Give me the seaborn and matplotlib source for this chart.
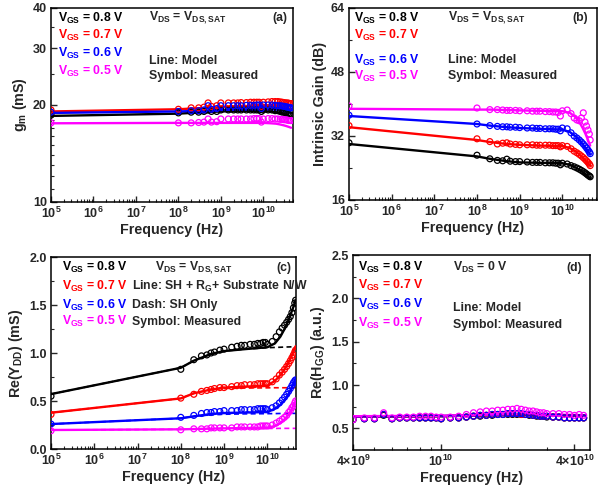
import numpy as np
import pandas as pd
import matplotlib
matplotlib.use("Agg")
import matplotlib.pyplot as plt
import matplotlib.ticker as mticker
import seaborn as sns

# ---------------------------------------------------------------- data
SERIES = ["0.8", "0.7", "0.6", "0.5"]
COLORS = {"0.8": "#000000", "0.7": "#ff0000", "0.6": "#0000ff", "0.5": "#ff00ff"}

# measured frequency sweep (Hz) for panels a-c
F_MEAS = [1e5, 1e8, 2e8, 3e8, 4e8, 5e8, 6e8, 8e8, 1e9, 1.5e9, 2e9, 2.5e9, 3e9,
          4e9, 5e9, 6e9, 7e9, 8e9, 9e9, 1e10, 1.3e10, 1.6e10, 1.9e10, 2.2e10,
          2.5e10, 2.8e10, 3.1e10, 3.4e10, 3.7e10, 4e10, 4.3e10, 4.5e10]
# model evaluation frequencies (Hz) for panels a-c
F_MODEL = [1e5, 1e8, 2e8, 5e8, 1e9, 3e9, 1e10, 1.5e10, 2e10, 2.5e10, 3e10,
           3.5e10, 4e10, 4.5e10]

# (a) transconductance gm (mS)
GM_MEAS = {
    "0.8": [18.6, 18.9, 19.0, 19.0, 19.1, 19.3, 19.1, 19.1, 19.3, 19.3, 19.3, 19.3, 19.3,
            19.3, 19.3, 19.3, 19.3, 19.3, 19.1, 19.3, 19.3, 19.3, 19.2, 19.2,
            19.1, 19.0, 19.0, 18.9, 18.8, 18.7, 18.6, 18.6],
    "0.7": [19.3, 19.4, 19.6, 19.6, 19.7, 20.3, 19.8, 19.9, 20.3, 20.3, 20.3, 20.3, 20.35,
            20.35, 20.4, 20.4, 20.4, 20.4, 19.8, 20.4, 20.45, 20.5, 20.5, 20.5,
            20.45, 20.4, 20.35, 20.3, 20.3, 20.25, 20.2, 20.2],
    "0.6": [19.0, 19.1, 19.2, 19.2, 19.3, 19.9, 19.4, 19.5, 19.9, 19.9, 19.9, 19.9, 19.9,
            19.95, 19.95, 19.95, 20.0, 20.0, 19.5, 20.0, 20.0, 20.0, 19.95, 19.9,
            19.9, 19.85, 19.8, 19.75, 19.7, 19.65, 19.6, 19.6],
    "0.5": [17.6, 17.6, 17.6, 17.65, 17.7, 18.1, 17.7, 17.75, 18.1, 18.1, 18.1, 18.1, 18.1,
            18.1, 18.1, 18.15, 18.15, 18.15, 17.7, 18.1, 18.15, 18.15, 18.1, 18.1,
            18.05, 18.05, 18.0, 18.0, 17.95, 17.9, 17.9, 17.9],
}
GM_MODEL = {
    "0.8": [18.5, 18.8, 18.9, 19.0, 19.1, 19.15, 19.15, 19.1, 19.0, 18.9, 18.8, 18.65, 18.5, 18.3],
    "0.7": [19.1, 19.4, 19.5, 19.6, 19.7, 19.8, 19.9, 19.9, 19.85, 19.8, 19.7, 19.6, 19.5, 19.4],
    "0.6": [18.9, 19.1, 19.15, 19.2, 19.3, 19.35, 19.4, 19.4, 19.35, 19.3, 19.2, 19.1, 19.0, 18.9],
    "0.5": [17.55, 17.6, 17.6, 17.6, 17.6, 17.6, 17.6, 17.55, 17.5, 17.4, 17.3, 17.2, 17.1, 17.0],
}

# (b) intrinsic gain (dB)
GAIN_MEAS = {
    "0.8": [30.3, 27.2, 26.3, 25.9, 25.8, 26.2, 25.7, 25.6, 25.6, 25.5, 25.4, 25.4, 25.4,
            25.3, 25.3, 25.3, 25.2, 25.2, 24.8, 25.2, 25.0, 24.6, 24.3, 24.0,
            23.7, 23.4, 23.1, 22.8, 22.5, 22.2, 22.0, 21.8],
    "0.7": [34.6, 31.3, 30.6, 30.0, 30.2, 30.3, 30.0, 29.9, 29.8, 29.8, 29.8, 29.7, 29.7,
            29.7, 29.7, 29.6, 29.6, 29.6, 29.3, 29.6, 29.4, 28.8, 28.2, 27.8,
            27.4, 27.0, 26.6, 26.2, 25.8, 25.4, 25.0, 24.6],
    "0.6": [37.2, 35.0, 34.6, 34.4, 34.3, 34.3, 34.2, 34.2, 34.1, 34.0, 34.0, 33.9, 33.9,
            33.8, 33.8, 33.8, 33.7, 33.7, 33.3, 34.0, 33.8, 32.8, 32.0, 31.5,
            31.0, 30.5, 30.0, 29.5, 29.0, 28.5, 28.0, 27.6],
    "0.5": [39.5, 39.0, 38.6, 38.6, 38.5, 38.4, 38.4, 38.4, 38.3, 38.3, 38.2, 38.2, 38.2,
            38.1, 38.1, 38.0, 38.0, 37.9, 37.0, 38.3, 38.5, 37.6, 36.5, 36.0,
            35.8, 36.5, 37.8, 35.5, 34.5, 33.5, 32.5, 31.0],
}
GAIN_MODEL = {
    "0.8": [30.0, 26.9, 26.3, 25.7, 25.4, 25.3, 25.2, 24.8, 24.2, 23.6, 23.0, 22.4, 21.9, 21.4],
    "0.7": [34.2, 31.0, 30.5, 30.0, 29.8, 29.6, 29.5, 29.0, 28.2, 27.4, 26.6, 25.8, 25.2, 24.6],
    "0.6": [37.0, 35.0, 34.6, 34.2, 34.0, 33.8, 33.6, 33.0, 32.0, 31.0, 30.0, 29.0, 28.2, 27.4],
    "0.5": [38.8, 38.6, 38.6, 38.5, 38.4, 38.3, 38.2, 37.8, 36.8, 35.5, 34.0, 32.5, 31.0, 29.6],
}

# (c) output conductance Re(Ydd) (mS)
YDD_MEAS = {
    "0.8": [0.55, 0.83, 0.93, 0.97, 0.98, 1.00, 1.01, 1.03, 1.04, 1.06, 1.07, 1.08, 1.08,
            1.09, 1.09, 1.10, 1.10, 1.11, 1.11, 1.09, 1.12, 1.17, 1.22, 1.26,
            1.29, 1.32, 1.35, 1.38, 1.42, 1.47, 1.52, 1.55],
    "0.7": [0.36, 0.53, 0.57, 0.60, 0.61, 0.62, 0.63, 0.64, 0.64, 0.65, 0.66, 0.66, 0.67,
            0.67, 0.67, 0.68, 0.68, 0.68, 0.68, 0.68, 0.70, 0.73, 0.77, 0.80,
            0.83, 0.86, 0.89, 0.92, 0.95, 0.98, 1.01, 1.03],
    "0.6": [0.26, 0.33, 0.35, 0.37, 0.38, 0.38, 0.39, 0.39, 0.40, 0.40, 0.40, 0.41, 0.41,
            0.41, 0.41, 0.42, 0.42, 0.42, 0.42, 0.41, 0.43, 0.45, 0.48, 0.51,
            0.54, 0.57, 0.60, 0.63, 0.66, 0.69, 0.71, 0.72],
    "0.5": [0.19, 0.20, 0.21, 0.21, 0.21, 0.22, 0.22, 0.22, 0.22, 0.22, 0.23, 0.23, 0.23,
            0.23, 0.23, 0.23, 0.24, 0.24, 0.24, 0.24, 0.25, 0.27, 0.29, 0.31,
            0.33, 0.35, 0.38, 0.40, 0.43, 0.45, 0.48, 0.50],
}
# full model: self-heating + gate resistance + substrate network
YDD_FULL = {
    "0.8": [0.572, 0.846, 0.92, 0.99, 1.02, 1.04, 1.06, 1.10, 1.17, 1.25, 1.33, 1.41, 1.48, 1.55],
    "0.7": [0.378, 0.527, 0.58, 0.62, 0.64, 0.65, 0.66, 0.71, 0.77, 0.83, 0.89, 0.95, 1.01, 1.07],
    "0.6": [0.26, 0.32, 0.34, 0.365, 0.375, 0.38, 0.385, 0.42, 0.46, 0.51, 0.56, 0.62, 0.68, 0.735],
    "0.5": [0.198, 0.205, 0.208, 0.212, 0.215, 0.218, 0.222, 0.24, 0.27, 0.31, 0.35, 0.40, 0.45, 0.50],
}
# self-heating only model
YDD_SH = {
    "0.8": [0.572, 0.846, 0.92, 0.99, 1.02, 1.04, 1.055, 1.058, 1.06, 1.062, 1.063, 1.064, 1.065, 1.065],
    "0.7": [0.378, 0.527, 0.58, 0.62, 0.63, 0.635, 0.637, 0.638, 0.638, 0.638, 0.638, 0.638, 0.638, 0.638],
    "0.6": [0.26, 0.32, 0.34, 0.355, 0.362, 0.366, 0.368, 0.369, 0.37, 0.37, 0.371, 0.371, 0.371, 0.371],
    "0.5": [0.198, 0.205, 0.208, 0.21, 0.212, 0.213, 0.214, 0.214, 0.215, 0.215, 0.215, 0.215, 0.215, 0.215],
}

# (d) Re(Hgg) at Vds = 0 V
F_D_MEAS = [4e9, 4.5e9, 5e9, 5.5e9, 6e9, 6.5e9, 7e9, 7.5e9, 8e9, 8.5e9, 9e9, 9.5e9,
            1e10, 1.1e10, 1.2e10, 1.3e10, 1.4e10, 1.5e10, 1.6e10, 1.7e10, 1.8e10,
            1.9e10, 2e10, 2.1e10, 2.2e10, 2.3e10, 2.4e10, 2.5e10, 2.6e10, 2.7e10,
            2.8e10, 2.9e10, 3e10, 3.2e10, 3.4e10, 3.6e10, 3.8e10, 4e10, 4.2e10, 4.4e10]
F_D_MODEL = [4e9, 1e10, 1.5e10, 2e10, 2.5e10, 3e10, 4e10, 4.5e10]
HGG_MEAS = {
    "0.8": [0.60, 0.61, 0.61, 0.65, 0.61, 0.62, 0.62, 0.62, 0.62, 0.62, 0.62, 0.62, 0.61,
            0.62, 0.62, 0.63, 0.64, 0.64, 0.65, 0.65, 0.66, 0.66, 0.66, 0.66, 0.66,
            0.66, 0.66, 0.65, 0.65, 0.64, 0.64, 0.64, 0.63, 0.63, 0.63, 0.62, 0.62,
            0.62, 0.62, 0.62],
    "0.7": [0.60, 0.61, 0.61, 0.66, 0.61, 0.62, 0.62, 0.62, 0.62, 0.62, 0.62, 0.62, 0.61,
            0.62, 0.62, 0.63, 0.64, 0.65, 0.65, 0.66, 0.66, 0.66, 0.67, 0.67, 0.67,
            0.66, 0.66, 0.66, 0.65, 0.65, 0.64, 0.64, 0.64, 0.63, 0.63, 0.62, 0.62,
            0.62, 0.62, 0.62],
    "0.6": [0.60, 0.61, 0.61, 0.66, 0.61, 0.62, 0.62, 0.62, 0.62, 0.62, 0.62, 0.62, 0.61,
            0.62, 0.62, 0.63, 0.64, 0.65, 0.65, 0.66, 0.66, 0.66, 0.67, 0.67, 0.67,
            0.67, 0.66, 0.66, 0.65, 0.65, 0.64, 0.64, 0.64, 0.63, 0.63, 0.62, 0.62,
            0.62, 0.62, 0.62],
    "0.5": [0.60, 0.62, 0.62, 0.68, 0.62, 0.63, 0.63, 0.63, 0.64, 0.64, 0.64, 0.63, 0.63,
            0.63, 0.64, 0.66, 0.68, 0.69, 0.70, 0.70, 0.71, 0.71, 0.72, 0.72, 0.73,
            0.72, 0.71, 0.70, 0.70, 0.69, 0.68, 0.68, 0.67, 0.67, 0.67, 0.66, 0.66,
            0.65, 0.66, 0.65],
}
HGG_MODEL = {
    "0.8": [0.635, 0.64, 0.648, 0.655, 0.656, 0.652, 0.646, 0.643],
    "0.7": [0.636, 0.641, 0.65, 0.658, 0.658, 0.654, 0.648, 0.645],
    "0.6": [0.637, 0.642, 0.652, 0.66, 0.66, 0.656, 0.65, 0.646],
    "0.5": [0.64, 0.645, 0.655, 0.665, 0.665, 0.66, 0.655, 0.65],
}

# ---------------------------------------------------------------- style
sns.set_style("ticks")
plt.rcParams.update({
    "font.family": ["Liberation Sans", "DejaVu Sans"],
    "font.weight": "bold",
    "axes.labelweight": "bold",
    "mathtext.fontset": "custom",
    "mathtext.rm": "Liberation Sans:bold",
    "mathtext.it": "Liberation Sans:bold",
    "mathtext.bf": "Liberation Sans:bold",
    "mathtext.sf": "Liberation Sans:bold",
    "mathtext.default": "bf",
    "axes.linewidth": 1.1,
    "axes.edgecolor": "black",
    "xtick.direction": "in",
    "ytick.direction": "in",
    "xtick.major.size": 4,
    "ytick.major.size": 4,
    "xtick.minor.size": 2,
    "ytick.minor.size": 2,
    "xtick.major.width": 1.0,
    "ytick.major.width": 1.0,
    "xtick.minor.width": 0.8,
    "ytick.minor.width": 0.8,
    "xtick.labelsize": 9,
    "ytick.labelsize": 9,
    "axes.labelsize": 10.3,
})

W, H = 610, 491
fig = plt.figure(figsize=(W / 100, H / 100), dpi=100)


def px_axes(left, top, right, bottom):
    return fig.add_axes([left / W, 1 - bottom / H, (right - left) / W, (bottom - top) / H])


ax_a = px_axes(51, 8, 293, 202)
ax_b = px_axes(349, 8, 597, 200)
ax_c = px_axes(51, 257, 296, 449)
ax_d = px_axes(353, 255, 590, 450)


def draw_panel(ax, f_meas, meas, f_model, model, dashed=None):
    for key in SERIES:
        col = COLORS[key]
        dm = pd.DataFrame({"f": f_model, "v": model[key]})
        sns.lineplot(data=dm, x="f", y="v", ax=ax, color=col, lw=1.7,
                     estimator=None, sort=False, zorder=3)
        if dashed is not None:
            dd = pd.DataFrame({"f": f_model, "v": dashed[key]})
            sns.lineplot(data=dd, x="f", y="v", ax=ax, color=col, lw=1.2,
                         estimator=None, sort=False, dashes=False,
                         linestyle=(0, (3, 2)), zorder=2)
        ds = pd.DataFrame({"f": f_meas, "v": meas[key]})
        sns.scatterplot(data=ds, x="f", y="v", ax=ax, marker="o", s=18,
                        color=col, facecolor="none", edgecolor=col,
                        linewidth=0.9, zorder=4)
    ax.set_xscale("log")


draw_panel(ax_a, F_MEAS, GM_MEAS, F_MODEL, GM_MODEL)
draw_panel(ax_b, F_MEAS, GAIN_MEAS, F_MODEL, GAIN_MODEL)
draw_panel(ax_c, F_MEAS, YDD_MEAS, F_MODEL, YDD_FULL, dashed=YDD_SH)
draw_panel(ax_d, F_D_MEAS, HGG_MEAS, F_D_MODEL, HGG_MODEL)


def decade_label(v, _pos):
    return r"$10^{%d}$" % int(round(np.log10(v)))


# x axes (decade sweeps)
for ax, right in ((ax_a, 5e10), (ax_b, 6.5e10), (ax_c, 4.6e10)):
    ax.set_xlim(1e5, right)
    ax.xaxis.set_major_locator(mticker.FixedLocator([1e5, 1e6, 1e7, 1e8, 1e9, 1e10]))
    ax.xaxis.set_major_formatter(mticker.FuncFormatter(decade_label))
    ax.xaxis.set_minor_locator(mticker.LogLocator(base=10, subs=np.arange(2, 10), numticks=30))
    ax.xaxis.set_minor_formatter(mticker.NullFormatter())

ax_d.set_xlim(4e9, 4.7e10)
ax_d.xaxis.set_major_locator(mticker.FixedLocator([4e9, 1e10, 4e10]))
ax_d.xaxis.set_major_formatter(mticker.FixedFormatter(
    [r"$4{\times}10^{9}$", r"$10^{10}$", r"$4{\times}10^{10}$"]))
ax_d.xaxis.set_minor_locator(mticker.FixedLocator([5e9, 6e9, 7e9, 8e9, 9e9, 2e10, 3e10]))
ax_d.xaxis.set_minor_formatter(mticker.NullFormatter())

# y axes
ax_a.set_yscale("log")
ax_a.set_ylim(10, 40)
ax_a.yaxis.set_major_locator(mticker.FixedLocator([10, 20, 30, 40]))
ax_a.yaxis.set_major_formatter(mticker.FixedFormatter(["10", "20", "30", "40"]))
ax_a.yaxis.set_minor_locator(mticker.FixedLocator([11, 12, 13, 14, 15, 16, 17, 18, 19, 25, 35]))
ax_a.yaxis.set_minor_formatter(mticker.NullFormatter())

ax_b.set_ylim(16, 64)
ax_b.yaxis.set_major_locator(mticker.MultipleLocator(16))
ax_b.yaxis.set_minor_locator(mticker.MultipleLocator(8))

ax_c.set_ylim(0, 2.0)
ax_c.yaxis.set_major_locator(mticker.MultipleLocator(0.5))
ax_c.yaxis.set_minor_locator(mticker.MultipleLocator(0.25))
ax_c.yaxis.set_major_formatter(mticker.FormatStrFormatter("%.1f"))

ax_d.set_ylim(0.25, 2.5)
ax_d.yaxis.set_major_locator(mticker.FixedLocator([0.5, 1.0, 1.5, 2.0, 2.5]))
ax_d.yaxis.set_minor_locator(mticker.FixedLocator([0.75, 1.25, 1.75, 2.25]))
ax_d.yaxis.set_major_formatter(mticker.FormatStrFormatter("%.1f"))

for ax in (ax_a, ax_b, ax_c, ax_d):
    for s in ax.spines.values():
        s.set_visible(True)
        s.set_linewidth(1.1)
    ax.tick_params(which="both", top=False, right=False)
    ax.tick_params(axis="x", which="major", pad=3)
    ax.tick_params(axis="y", which="major", pad=3)
    ax.set_xlabel("Frequency (Hz)", labelpad=1)
    for lab in ax.get_xticklabels() + ax.get_yticklabels():
        lab.set_fontweight("bold")

ax_a.set_ylabel(r"g$_{m}$ (mS)", labelpad=3)
ax_b.set_ylabel("Intrinsic Gain (dB)", labelpad=3)
ax_c.set_ylabel(r"Re(Y$_{DD}$) (mS)", labelpad=3)
ax_d.set_ylabel(r"Re(H$_{GG}$) (a.u.)", labelpad=3)

# annotations
TXT = dict(fontsize=8.8, fontweight="bold", va="center", ha="left")


def vgs_block(ax, x, ys):
    for key, y in zip(SERIES, ys):
        ax.text(x, y, r"V$_{GS}$ = " + key + " V", color=COLORS[key],
                transform=ax.transAxes, **TXT)


vgs_block(ax_a, 0.03, [0.948, 0.861, 0.768, 0.675])
ax_a.text(0.405, 0.948, r"V$_{DS}$ = V$_{DS,SAT}$", transform=ax_a.transAxes, **TXT)
ax_a.text(0.975, 0.948, "(a)", transform=ax_a.transAxes, **{**TXT, "ha": "right"})
ax_a.text(0.405, 0.727, "Line: Model", transform=ax_a.transAxes, **TXT)
ax_a.text(0.405, 0.649, "Symbol: Measured", transform=ax_a.transAxes, **TXT)

vgs_block(ax_b, 0.02, [0.948, 0.859, 0.729, 0.646])
ax_b.text(0.40, 0.948, r"V$_{DS}$ = V$_{DS,SAT}$", transform=ax_b.transAxes, **TXT)
ax_b.text(0.965, 0.948, "(b)", transform=ax_b.transAxes, **{**TXT, "ha": "right"})
ax_b.text(0.40, 0.729, "Line: Model", transform=ax_b.transAxes, **TXT)
ax_b.text(0.40, 0.646, "Symbol: Measured", transform=ax_b.transAxes, **TXT)

vgs_block(ax_c, 0.045, [0.944, 0.845, 0.75, 0.663])
ax_c.text(0.424, 0.944, r"V$_{DS}$ = V$_{DS,SAT}$", transform=ax_c.transAxes, **TXT)
ax_c.text(0.98, 0.944, "(c)", transform=ax_c.transAxes, **{**TXT, "ha": "right"})
ax_c.text(0.331, 0.845, r"Line: SH + R$_{G}$+ Substrate N/W", transform=ax_c.transAxes, **TXT)
ax_c.text(0.331, 0.75, "Dash: SH Only", transform=ax_c.transAxes, **TXT)
ax_c.text(0.331, 0.663, "Symbol: Measured", transform=ax_c.transAxes, **TXT)

vgs_block(ax_d, 0.02, [0.935, 0.846, 0.747, 0.65])
ax_d.text(0.42, 0.935, r"V$_{DS}$ = 0 V", transform=ax_d.transAxes, **TXT)
ax_d.text(0.965, 0.935, "(d)", transform=ax_d.transAxes, **{**TXT, "ha": "right"})
ax_d.text(0.42, 0.727, "Line: Model", transform=ax_d.transAxes, **TXT)
ax_d.text(0.42, 0.64, "Symbol: Measured", transform=ax_d.transAxes, **TXT)

fig.savefig("out.png", dpi=100)
